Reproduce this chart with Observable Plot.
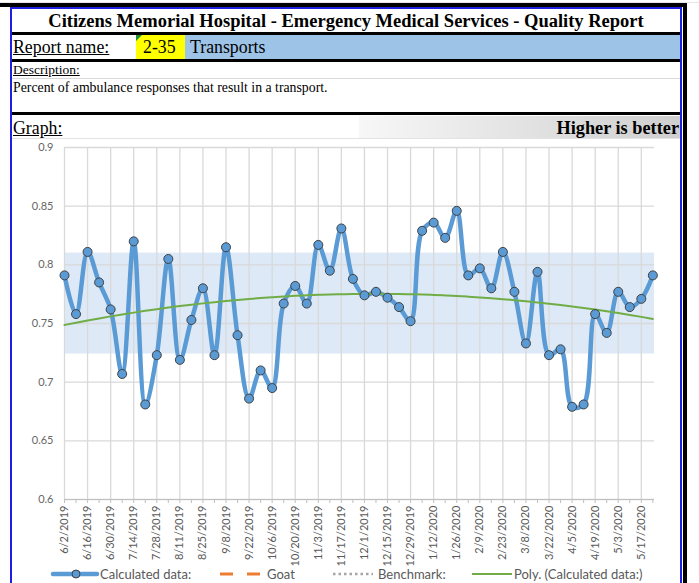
<!DOCTYPE html>
<html><head><meta charset="utf-8">
<script src="https://cdn.jsdelivr.net/npm/d3@7"></script>
<script src="https://cdn.jsdelivr.net/npm/@observablehq/plot@0.6"></script>
<style>
html,body{margin:0;padding:0;background:#fff;}
body{width:699px;height:583px;overflow:hidden;position:relative;font-family:"Liberation Serif","Times New Roman",serif;color:#000;}
.a{position:absolute;}
.blk{position:absolute;background:#000;}
.u{text-decoration:underline;}
</style></head><body>
<div class="a" style="left:0;top:0;width:699px;height:3px;background:#fff;border-bottom:1px solid #e6e6e6;box-sizing:border-box"></div>
<div class="blk" style="left:0;top:3px;width:687px;height:4px"></div>
<div class="blk" style="left:683px;top:3px;width:4px;height:580px"></div>
<div class="a" style="left:10px;top:7px;width:2px;height:576px;background:#1f1fe0"></div>
<div class="a" style="left:680px;top:7px;width:2px;height:576px;background:#1f1fe0"></div>
<div class="a" style="left:10px;top:7px;width:672px;height:2px;background:#1f1fe0"></div>

<div class="a" style="left:12px;top:9px;width:668px;height:23px;text-align:center;font-weight:bold;font-size:18.5px;line-height:25px">Citizens Memorial Hospital - Emergency Medical Services - Quality Report</div>
<div class="blk" style="left:12px;top:32px;width:668px;height:3px"></div>

<div class="a" style="left:136px;top:35px;width:49px;height:24px;background:#ffff00"></div>
<div class="a" style="left:136px;top:35px;width:0;height:0;border-top:6px solid #1f8f3a;border-right:6px solid transparent"></div>
<div class="a" style="left:185px;top:35px;width:495px;height:24px;background:#9dc3e6"></div>
<div class="a u" style="left:13px;top:36px;font-size:17.8px;line-height:22px">Report name:</div>
<div class="a" style="left:143px;top:36px;font-size:17.8px;line-height:22px">2-35</div>
<div class="a" style="left:190px;top:36px;font-size:17.8px;line-height:22px">Transports</div>
<div class="blk" style="left:12px;top:59px;width:668px;height:3px"></div>

<div class="a u" style="left:13px;top:62px;font-size:13.5px;line-height:15px">Description:</div>
<div class="a" style="left:12px;top:78px;width:668px;height:1px;background:#d9d9d9"></div>
<div class="a" style="left:13px;top:80px;font-size:13.8px;line-height:15px">Percent of ambulance responses that result in a transport.</div>
<div class="blk" style="left:12px;top:112px;width:668px;height:3px"></div>

<div class="a" style="left:359px;top:116px;width:321px;height:22px;background:linear-gradient(to right,#f7f7f7,#cfcfcf)"></div>
<div class="a u" style="left:13px;top:117px;font-size:17.8px;line-height:22px">Graph:</div>
<div class="a" style="left:359px;top:117px;width:320px;text-align:right;font-weight:bold;font-size:18.3px;line-height:22px">Higher is better</div>
<div class="a" style="left:12px;top:138px;width:668px;height:1px;background:#e3e3e3"></div>

<div id="chart" class="a" style="left:12px;top:139px"></div>
<div id="legend" class="a" style="left:0;top:562px"></div>

<script>
// ---- data ----
const dates = [
  "2019-06-02","2019-06-09","2019-06-16","2019-06-23","2019-06-30","2019-07-07","2019-07-14","2019-07-21","2019-07-28",
  "2019-08-04","2019-08-11","2019-08-18","2019-08-25","2019-09-01","2019-09-08","2019-09-15","2019-09-22","2019-09-29",
  "2019-10-06","2019-10-13","2019-10-20","2019-10-27","2019-11-03","2019-11-10","2019-11-17","2019-11-24",
  "2019-12-01","2019-12-08","2019-12-15","2019-12-22","2019-12-29","2020-01-05","2020-01-12","2020-01-19","2020-01-26",
  "2020-02-02","2020-02-09","2020-02-16","2020-02-23","2020-03-01","2020-03-08","2020-03-15","2020-03-22","2020-03-29",
  "2020-04-05","2020-04-12","2020-04-19","2020-04-26","2020-05-03","2020-05-10","2020-05-17","2020-05-24"
];
const values = [
  0.791, 0.758, 0.811, 0.785, 0.762, 0.707, 0.820, 0.681, 0.723, 0.805,
  0.719, 0.753, 0.780, 0.723, 0.815, 0.740, 0.686, 0.710, 0.695, 0.767,
  0.782, 0.767, 0.817, 0.795, 0.831, 0.788, 0.774, 0.777, 0.772, 0.764,
  0.752, 0.829, 0.836, 0.823, 0.846, 0.791, 0.797, 0.780, 0.811, 0.777,
  0.733, 0.794, 0.723, 0.728, 0.679, 0.681, 0.758, 0.742, 0.777, 0.764,
  0.771, 0.791
];
const labelDates = [
  "2019-06-02","2019-06-16","2019-06-30","2019-07-14","2019-07-28","2019-08-11","2019-08-25","2019-09-08","2019-09-22",
  "2019-10-06","2019-10-20","2019-11-03","2019-11-17","2019-12-01","2019-12-15","2019-12-29","2020-01-12","2020-01-26",
  "2020-02-09","2020-02-23","2020-03-08","2020-03-22","2020-04-05","2020-04-19","2020-05-03","2020-05-17"
];
const yTicks = [0.6, 0.65, 0.7, 0.75, 0.8, 0.85, 0.9];
const bandLow = 0.724;
const bandHigh = 0.810;
const legendNames = ["Calculated data:", "Goat", "Benchmark:", "Poly. (Calculated data:)"];

// ---- build ----
const parse = d3.utcParse("%Y-%m-%d");
const data = dates.map((d, i) => ({date: parse(d), value: values[i]}));
const labels = labelDates.map(parse);
const allDates = data.map(d => d.date);
const xStart = data[0].date;
const xEnd = d3.utcDay.offset(data[data.length - 1].date, 1);

// quadratic least-squares trendline (Excel "Poly." order 2)
function quadFit(ys) {
  let S = [0,0,0,0,0], T = [0,0,0];
  ys.forEach((y, i) => {
    let p = 1;
    for (let k = 0; k < 5; k++) { S[k] += p; if (k < 3) T[k] += p * y; p *= i; }
  });
  const A = [[S[0],S[1],S[2],T[0]],[S[1],S[2],S[3],T[1]],[S[2],S[3],S[4],T[2]]];
  for (let c = 0; c < 3; c++) {
    for (let r = c + 1; r < 3; r++) {
      const f = A[r][c] / A[c][c];
      for (let k = c; k < 4; k++) A[r][k] -= f * A[c][k];
    }
  }
  const x = [0,0,0];
  for (let r = 2; r >= 0; r--) {
    let s = A[r][3];
    for (let k = r + 1; k < 3; k++) s -= A[r][k] * x[k];
    x[r] = s / A[r][r];
  }
  return i => x[0] + x[1] * i + x[2] * i * i;
}
const f = quadFit(values);
const trend = data.map((d, i) => ({date: d.date, value: f(i)}));

const chart = Plot.plot({
  width: 668, height: 427,
  marginLeft: 52, marginRight: 26, marginTop: 8, marginBottom: 67,
  style: {background: "transparent", fontFamily: "Lato, 'Open Sans', sans-serif", fontSize: "11px", color: "#595959", overflow: "visible"},
  x: {type: "utc", domain: [xStart, xEnd]},
  y: {domain: [0.6, 0.9]},
  marks: [
    Plot.rect([{x1: xStart, x2: xEnd, y1: bandLow, y2: bandHigh}], {x1: "x1", x2: "x2", y1: "y1", y2: "y2", fill: "#dde9f6"}),
    Plot.gridY(yTicks, {stroke: "#d9d9d9", strokeOpacity: 1, strokeWidth: 1.3}),
    Plot.gridX(labels, {stroke: "#d9d9d9", strokeOpacity: 1, strokeWidth: 1.3}),
    Plot.ruleY([0.6], {stroke: "#bfbfbf"}),
    Plot.axisY(yTicks, {tickSize: 0, tickPadding: 11, tickFormat: d => String(+d.toFixed(2)), fill: "#666666", fontSize: 11, label: null}),
    Plot.axisX(allDates, {tickSize: 4, text: null, stroke: "#bfbfbf", label: null}),
    Plot.axisX(labels, {tickSize: 0, tickPadding: 6, tickRotate: -90, tickFormat: d3.utcFormat("%-m/%-d/%Y"), fill: "#595959", fontSize: 11, label: null}),
    Plot.line(data, {x: "date", y: "value", stroke: "#5b9bd5", strokeWidth: 4.5, curve: "catmull-rom"}),
    Plot.line(trend, {x: "date", y: "value", stroke: "#70ad47", strokeWidth: 2, curve: "natural"}),
    Plot.dot(data, {x: "date", y: "value", r: 4.5, fill: "#5b9bd5", stroke: "#404040", strokeWidth: 1})
  ]
});
document.getElementById("chart").appendChild(chart);

// ---- legend ----
const lg = d3.select("#legend").append("svg").attr("width", 680).attr("height", 21)
  .style("font-family", "Lato, 'Open Sans', sans-serif").style("font-size", "13px");
const ly = 12;
lg.append("line").attr("x1", 53).attr("x2", 97).attr("y1", ly).attr("y2", ly).attr("stroke", "#5b9bd5").attr("stroke-width", 4.5).attr("stroke-linecap", "round");
lg.append("circle").attr("cx", 76).attr("cy", ly).attr("r", 4).attr("fill", "#5b9bd5").attr("stroke", "#404040");
lg.append("text").attr("x", 100).attr("y", ly + 4.5).attr("fill", "#595959").text(legendNames[0]);
lg.append("line").attr("x1", 220).attr("x2", 261).attr("y1", ly).attr("y2", ly).attr("stroke", "#ed7d31").attr("stroke-width", 3).attr("stroke-dasharray", "13,14");
lg.append("text").attr("x", 267).attr("y", ly + 4.5).attr("fill", "#595959").text(legendNames[1]);
lg.append("line").attr("x1", 333).attr("x2", 373).attr("y1", ly).attr("y2", ly).attr("stroke", "#a5a5a5").attr("stroke-width", 2.5).attr("stroke-dasharray", "2.5,3");
lg.append("text").attr("x", 378).attr("y", ly + 4.5).attr("fill", "#595959").text(legendNames[2]);
lg.append("line").attr("x1", 472).attr("x2", 512).attr("y1", ly).attr("y2", ly).attr("stroke", "#70ad47").attr("stroke-width", 2);
lg.append("text").attr("x", 514).attr("y", ly + 4.5).attr("fill", "#595959").text(legendNames[3]);
</script>
</body></html>
